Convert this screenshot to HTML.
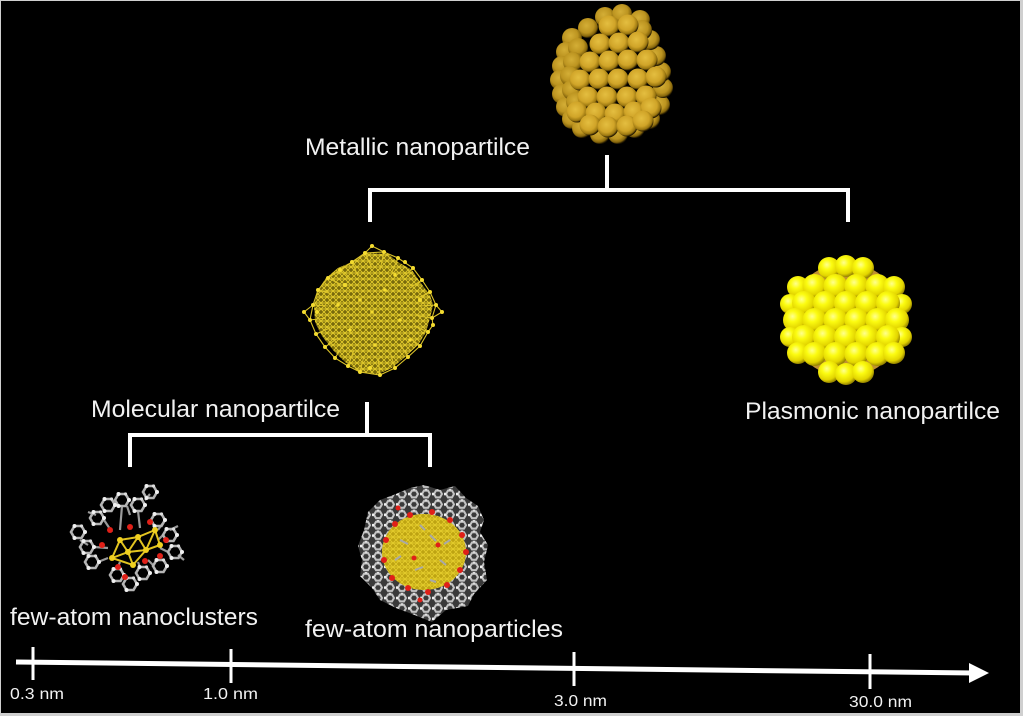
<!DOCTYPE html>
<html><head><meta charset="utf-8"><style>html,body{margin:0;padding:0;background:#000;overflow:hidden}svg{display:block}</style></head>
<body>
<svg width="1023" height="716" viewBox="0 0 1023 716" xmlns="http://www.w3.org/2000/svg" xmlns:xlink="http://www.w3.org/1999/xlink">
<defs>
<radialGradient id="gold" cx="0.42" cy="0.38" r="0.62"><stop offset="0" stop-color="#e4be40"/><stop offset="0.6" stop-color="#d0a428"/><stop offset="0.86" stop-color="#9a7610"/><stop offset="1" stop-color="#1e1400"/></radialGradient>
<radialGradient id="gold2" cx="0.42" cy="0.38" r="0.62"><stop offset="0" stop-color="#d4ae36"/><stop offset="0.6" stop-color="#bc9420"/><stop offset="0.86" stop-color="#86660c"/><stop offset="1" stop-color="#1a1200"/></radialGradient>
<radialGradient id="yel" cx="0.4" cy="0.35" r="0.65"><stop offset="0" stop-color="#ffff90"/><stop offset="0.35" stop-color="#fcfc10"/><stop offset="0.78" stop-color="#e2d400"/><stop offset="1" stop-color="#968400"/></radialGradient>
<pattern id="mesh" width="6" height="6" patternUnits="userSpaceOnUse"><path d="M0 0L6 6M6 0L0 6M0 3H6" stroke="#e4cc2c" stroke-width="0.9" fill="none"/></pattern>
<pattern id="hexp" width="12" height="10.4" patternUnits="userSpaceOnUse"><polygon points="10,5.2 8,8.6 4,8.6 2,5.2 4,1.8 8,1.8" fill="none" stroke="#c4c4c4" stroke-width="2"/><circle cx="1" cy="5.2" r="1.4" fill="#f0f0f0"/><circle cx="6" cy="0.5" r="1.3" fill="#e0e0e0"/></pattern>
<g id="hx"><polygon points="7,0 3.5,6 -3.5,6 -7,0 -3.5,-6 3.5,-6" fill="none" stroke="#b4b4b4" stroke-width="2.6"/><circle cx="7" cy="0" r="2" fill="#f0f0f0"/><circle cx="-3.5" cy="6" r="2" fill="#f0f0f0"/><circle cx="-3.5" cy="-6" r="2" fill="#f0f0f0"/><circle cx="3.5" cy="-6" r="1.6" fill="#ddd"/></g>
<clipPath id="molclip"><polygon points="352,262 366,253 388,254 398,262 412,270 420,282 430,295 433,305 430,318 426,332 418,345 405,357 392,368 378,374 360,372 345,362 333,350 322,336 315,322 314,305 318,290 326,278 338,268"/></clipPath>
<clipPath id="npclip"><polygon points="424,485 440,490 455,486 466,498 478,506 484,520 480,532 488,545 484,562 487,580 474,594 468,606 446,610 432,622 412,614 396,608 380,600 372,588 360,576 362,560 358,546 364,530 368,512 380,500 396,494 410,488"/></clipPath>
</defs>

<rect x="0" y="0" width="1023" height="716" fill="#000"/>
<rect x="0.5" y="0.5" width="1020.5" height="713" fill="none" stroke="#cfcfcf" stroke-width="1"/>
<rect x="1020" y="0" width="3" height="716" fill="#cfcfcf"/>
<rect x="0" y="713" width="1023" height="3" fill="#cfcfcf"/>

<!-- Top gold cluster -->
<g fill="url(#gold2)">
<circle cx="605" cy="17" r="10"/><circle cx="622" cy="14" r="10"/><circle cx="640" cy="20" r="10"/><circle cx="588" cy="28" r="10"/>
<circle cx="572" cy="38" r="10"/><circle cx="566" cy="52" r="10"/><circle cx="562" cy="66" r="10"/><circle cx="560" cy="80" r="10"/>
<circle cx="562" cy="94" r="10"/><circle cx="566" cy="107" r="10"/><circle cx="572" cy="119" r="10"/><circle cx="582" cy="128" r="10"/>
<circle cx="600" cy="134" r="10"/><circle cx="618" cy="134" r="10"/><circle cx="635" cy="128" r="10"/><circle cx="650" cy="119" r="10"/>
<circle cx="660" cy="105" r="10"/><circle cx="663" cy="88" r="10"/><circle cx="661" cy="72" r="10"/><circle cx="656" cy="56" r="10"/>
<circle cx="650" cy="40" r="10"/><circle cx="642" cy="30" r="10"/>
<circle cx="578" cy="48" r="10"/><circle cx="573" cy="62" r="10"/><circle cx="570" cy="76" r="10"/><circle cx="572" cy="90" r="10"/><circle cx="576" cy="102" r="10"/>
</g>
<g fill="url(#gold)">
<circle cx="609" cy="26" r="10.5"/><circle cx="628" cy="25" r="10.5"/>
<circle cx="600" cy="44" r="10.5"/><circle cx="619" cy="43" r="10.5"/><circle cx="638" cy="42" r="10.5"/>
<circle cx="590" cy="62" r="10.5"/><circle cx="609" cy="61" r="10.5"/><circle cx="628" cy="60" r="10.5"/><circle cx="647" cy="60" r="10.5"/>
<circle cx="580" cy="80" r="10.5"/><circle cx="599" cy="79" r="10.5"/><circle cx="618" cy="79" r="10.5"/><circle cx="638" cy="79" r="10.5"/><circle cx="656" cy="77" r="10.5"/>
<circle cx="588" cy="97" r="10.5"/><circle cx="607" cy="97" r="10.5"/><circle cx="627" cy="97" r="10.5"/><circle cx="646" cy="96" r="10.5"/>
<circle cx="577" cy="112" r="10.5"/><circle cx="596" cy="113" r="10.5"/><circle cx="615" cy="114" r="10.5"/><circle cx="634" cy="112" r="10.5"/><circle cx="651" cy="108" r="10.5"/>
<circle cx="590" cy="125" r="10.5"/><circle cx="608" cy="127" r="10.5"/><circle cx="627" cy="126" r="10.5"/><circle cx="643" cy="121" r="10.5"/>
</g>

<!-- Brackets -->
<g stroke="#fff" stroke-width="4" fill="none" stroke-linecap="butt">
<path d="M607 155V190M368 190H850M370 190V222M848 190V222"/>
<path d="M367 402V435M128 435H432M130 435V467M430 435V467"/>
</g>

<!-- Molecular nanoparticle -->
<g clip-path="url(#molclip)">
<rect x="300" y="240" width="150" height="150" fill="#786a0c"/>
<rect x="300" y="240" width="150" height="150" fill="url(#mesh)"/>
</g>
<g stroke="#dcc42a" stroke-width="1.1" fill="none">
<polyline points="365,253 384,252 398,258 413,268 422,280 430,292 436,305 432,318 433,325 428,332 420,346 408,357 395,368 380,375 360,372 348,366 335,358 325,347 316,334 310,320 313,305 318,290 328,278 340,270 352,262 365,253"/>
<path d="M365 253L372 268M384 252L380 270M398 258L392 272M413 268L402 278M422 280L410 288M430 292L418 298M436 305L420 306M432 318L418 316M428 332L414 326M420 346L408 336M408 357L400 344M395 368L390 352M380 375L378 358M360 372L364 356M348 366L354 350M335 358L344 344M325 347L338 338M316 334L330 328M310 320L326 318M313 305L328 306M318 290L332 294M328 278L340 284M340 270L350 280M352 262L358 276M384 252L372 246L365 253M436 305L442 312L432 318M310 320L304 312L313 305"/>
</g>
<g fill="#f4dc30">
<circle cx="365" cy="253" r="2"/><circle cx="384" cy="252" r="2"/><circle cx="398" cy="258" r="2"/><circle cx="352" cy="262" r="2"/><circle cx="340" cy="270" r="2"/><circle cx="413" cy="268" r="2"/><circle cx="422" cy="280" r="2"/><circle cx="328" cy="278" r="2"/><circle cx="318" cy="290" r="2"/><circle cx="430" cy="292" r="2"/><circle cx="436" cy="305" r="2"/><circle cx="313" cy="305" r="2"/><circle cx="310" cy="320" r="2"/><circle cx="432" cy="318" r="2"/><circle cx="428" cy="332" r="2"/><circle cx="316" cy="334" r="2"/><circle cx="325" cy="347" r="2"/><circle cx="420" cy="346" r="2"/><circle cx="408" cy="357" r="2"/><circle cx="335" cy="358" r="2"/><circle cx="348" cy="366" r="2"/><circle cx="395" cy="368" r="2"/><circle cx="360" cy="372" r="2"/><circle cx="380" cy="375" r="2"/><circle cx="370" cy="368" r="2"/><circle cx="405" cy="262" r="2"/><circle cx="345" cy="285" r="2"/><circle cx="420" cy="300" r="2"/><circle cx="317" cy="312" r="2"/><circle cx="433" cy="325" r="2"/><circle cx="372" cy="246" r="2"/><circle cx="442" cy="312" r="2"/><circle cx="304" cy="312" r="2"/>
<circle cx="360" cy="300" r="1.8"/><circle cx="385" cy="290" r="1.8"/><circle cx="400" cy="320" r="1.8"/><circle cx="350" cy="330" r="1.8"/><circle cx="375" cy="345" r="1.8"/><circle cx="372" cy="312" r="1.8"/><circle cx="395" cy="275" r="1.8"/><circle cx="338" cy="305" r="1.8"/><circle cx="410" cy="340" r="1.8"/>
</g>

<!-- Plasmonic nanoparticle -->
<circle cx="846" cy="320" r="57" fill="#c09030"/>
<g fill="url(#yel)">
<circle cx="829" cy="268" r="11"/><circle cx="846" cy="266" r="11"/><circle cx="863" cy="268" r="11"/>
<circle cx="798" cy="287" r="11"/><circle cx="814.5" cy="286" r="12"/><circle cx="835.5" cy="286" r="12"/><circle cx="856.5" cy="286" r="12"/><circle cx="877.5" cy="286" r="12"/><circle cx="894" cy="287" r="11"/>
<circle cx="790" cy="304" r="10"/><circle cx="902" cy="304" r="10"/>
<circle cx="804" cy="303" r="12"/><circle cx="825" cy="303" r="12"/><circle cx="846" cy="303" r="12"/><circle cx="867" cy="303" r="12"/><circle cx="888" cy="303" r="12"/>
<circle cx="795" cy="320" r="12"/><circle cx="814.5" cy="320" r="12"/><circle cx="835.5" cy="320" r="12"/><circle cx="856.5" cy="320" r="12"/><circle cx="877.5" cy="320" r="12"/><circle cx="897" cy="320" r="12"/>
<circle cx="790" cy="337" r="10"/><circle cx="902" cy="337" r="10"/>
<circle cx="804" cy="337" r="12"/><circle cx="825" cy="337" r="12"/><circle cx="846" cy="337" r="12"/><circle cx="867" cy="337" r="12"/><circle cx="888" cy="337" r="12"/>
<circle cx="798" cy="353" r="11"/><circle cx="814.5" cy="354" r="12"/><circle cx="835.5" cy="354" r="12"/><circle cx="856.5" cy="354" r="12"/><circle cx="877.5" cy="354" r="12"/><circle cx="894" cy="353" r="11"/>
<circle cx="829" cy="372" r="11"/><circle cx="846" cy="374" r="11"/><circle cx="863" cy="372" r="11"/>
</g>

<!-- Few-atom nanoclusters (small) -->
<g stroke="#9a9a9a" stroke-width="2.2" fill="none">
<path d="M122 506L120 530M138 511L140 528M104 520L112 532M163 523L158 530M163 535L158 540M94 547L108 548M168 552L160 548M154 566L148 560M140 567L138 562M117 569L120 562M98 562L108 558M127 506L130 515M88 545L80 540M178 555L184 560M96 515L88 512M145 500L150 494M170 530L178 526"/>
</g>
<g>
<use xlink:href="#hx" href="#hx" x="138" y="505"/><use xlink:href="#hx" href="#hx" x="97" y="518"/><use xlink:href="#hx" href="#hx" x="122" y="500"/>
<use xlink:href="#hx" href="#hx" x="170" y="535"/><use xlink:href="#hx" href="#hx" x="87" y="547"/><use xlink:href="#hx" href="#hx" x="175" y="552"/>
<use xlink:href="#hx" href="#hx" x="160" y="566"/><use xlink:href="#hx" href="#hx" x="143" y="573"/><use xlink:href="#hx" href="#hx" x="117" y="575"/>
<use xlink:href="#hx" href="#hx" x="92" y="562"/><use xlink:href="#hx" href="#hx" x="158" y="520"/><use xlink:href="#hx" href="#hx" x="108" y="505"/>
<use xlink:href="#hx" href="#hx" x="150" y="492"/><use xlink:href="#hx" href="#hx" x="78" y="532"/><use xlink:href="#hx" href="#hx" x="130" y="584"/>
</g>
<g stroke="#e2c420" stroke-width="2" fill="none">
<path d="M120 540L138 537L155 530M120 540L128 552L138 537L146 550L155 530M128 552L146 550L133 565L128 552M120 540L112 558L128 552M112 558L133 565M155 530L160 545L146 550"/>
</g>
<g fill="#f0d020"><circle cx="120" cy="540" r="3"/><circle cx="138" cy="537" r="3"/><circle cx="155" cy="530" r="3"/><circle cx="128" cy="552" r="3"/><circle cx="146" cy="550" r="3"/><circle cx="112" cy="558" r="3"/><circle cx="133" cy="565" r="3"/><circle cx="160" cy="545" r="3"/></g>
<g fill="#e02018"><circle cx="110" cy="530" r="3"/><circle cx="130" cy="527" r="3"/><circle cx="150" cy="522" r="3"/><circle cx="102" cy="545" r="3"/><circle cx="166" cy="540" r="3"/><circle cx="145" cy="561" r="3"/><circle cx="118" cy="567" r="3"/><circle cx="160" cy="556" r="3"/><circle cx="125" cy="577" r="3"/></g>

<!-- Few-atom nanoparticles (large) -->
<g clip-path="url(#npclip)">
<rect x="355" y="480" width="140" height="145" fill="#3a3a3a"/>
<rect x="355" y="480" width="140" height="145" fill="url(#hexp)"/>
</g>
<ellipse cx="424" cy="552" rx="42" ry="38" fill="#bea412"/>
<ellipse cx="424" cy="552" rx="42" ry="38" fill="url(#mesh)"/>
<g stroke="#a8a8a8" stroke-width="2" fill="none">
<path d="M400 540l8 4M430 535l6 6M415 570l8-3M440 560l6 5M395 560l6-4M420 525l5 5M450 540l-6 4M430 580l6 2"/>
</g>
<g fill="#e02018">
<circle cx="410" cy="515" r="3"/><circle cx="432" cy="512" r="3"/><circle cx="450" cy="520" r="3"/><circle cx="462" cy="535" r="3"/><circle cx="466" cy="552" r="3"/><circle cx="460" cy="570" r="3"/><circle cx="447" cy="585" r="3"/><circle cx="428" cy="592" r="3"/><circle cx="408" cy="588" r="3"/><circle cx="392" cy="578" r="3"/><circle cx="384" cy="560" r="3"/><circle cx="386" cy="540" r="3"/><circle cx="395" cy="524" r="3"/><circle cx="438" cy="545" r="2.5"/><circle cx="414" cy="558" r="2.5"/><circle cx="398" cy="508" r="2.5"/><circle cx="420" cy="600" r="2.5"/>
</g>

<!-- Axis -->
<line x1="16" y1="662" x2="974" y2="673" stroke="#fff" stroke-width="5"/>
<polygon points="969,663 989,673 969,683" fill="#fff"/>
<g stroke="#fff" stroke-width="3">
<line x1="33" y1="647" x2="33" y2="680"/>
<line x1="231" y1="649" x2="231" y2="683"/>
<line x1="574" y1="652" x2="574" y2="686"/>
<line x1="870" y1="654" x2="870" y2="689"/>
</g>

<!-- Text -->
<g font-family="Liberation Sans, Arial, sans-serif" fill="#f2f2f2">
<text x="305" y="155" font-size="24.5" textLength="225" lengthAdjust="spacingAndGlyphs">Metallic nanopartilce</text>
<text x="91" y="417" font-size="24.5" textLength="249" lengthAdjust="spacingAndGlyphs">Molecular nanopartilce</text>
<text x="745" y="419" font-size="24.5" textLength="255" lengthAdjust="spacingAndGlyphs">Plasmonic nanopartilce</text>
<text x="10" y="625" font-size="24.5" textLength="248" lengthAdjust="spacingAndGlyphs">few-atom nanoclusters</text>
<text x="305" y="637" font-size="24.5" textLength="258" lengthAdjust="spacingAndGlyphs">few-atom nanoparticles</text>
<text x="10" y="699" font-size="16" textLength="54" lengthAdjust="spacingAndGlyphs">0.3 nm</text>
<text x="203" y="699" font-size="16" textLength="55" lengthAdjust="spacingAndGlyphs">1.0 nm</text>
<text x="554" y="706" font-size="16" textLength="53" lengthAdjust="spacingAndGlyphs">3.0 nm</text>
<text x="849" y="707" font-size="16" textLength="63" lengthAdjust="spacingAndGlyphs">30.0 nm</text>
</g>
</svg>
</body></html>
